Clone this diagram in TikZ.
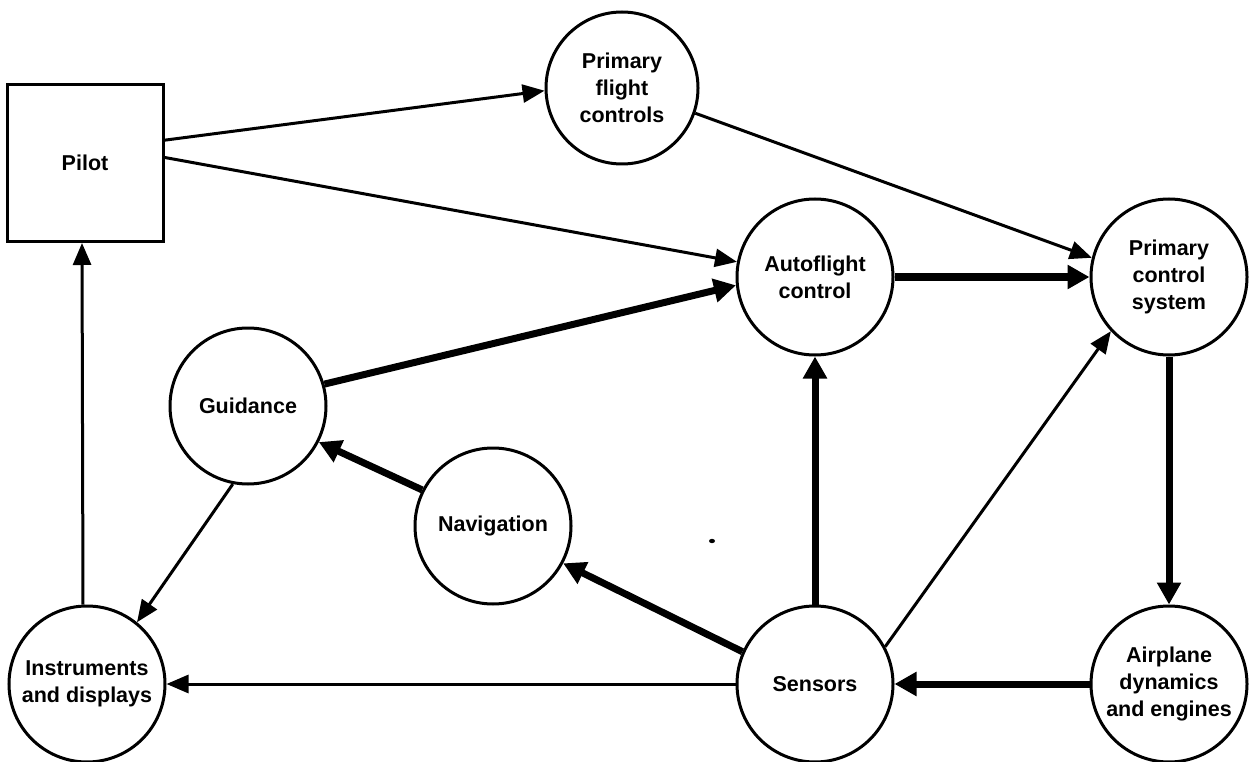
\documentclass[tikz,border=0pt]{standalone}
\usepackage{fontspec}
\setmainfont{Liberation Sans}
\usetikzlibrary{arrows.meta}
\begin{document}
\begin{tikzpicture}[x=1pt,y=-1pt,
  label text/.style={font=\fontsize{21.5}{27}\selectfont\bfseries,align=center},
  block/.style={circle,draw,line width=3pt,minimum size=156pt,inner sep=0pt,label text},
  smallblock/.style={block,minimum size=152pt},
  pilotbox/.style={rectangle,draw,line width=3pt,minimum width=156pt,minimum height=157pt,inner sep=0pt,label text},
  thinflow/.style={line width=3pt,-{Triangle[length=22pt,width=18pt]}},
  thickflow/.style={line width=7pt,-{Triangle[length=22pt,width=23pt]}},
]
\useasboundingbox (0,0) rectangle (1256,762);

% blocks
\node[pilotbox]   (pilot) at (85,163)   {Pilot};
\node[smallblock] (pfc)   at (622,88)   {Primary\\flight\\controls};
\node[block]      (auto)  at (815,277)  {Autoflight\\control};
\node[block]      (pcs)   at (1169,277) {Primary\\control\\system};
\node[block]      (guid)  at (248,406)  {Guidance};
\node[block]      (nav)   at (493,526)  {Navigation};
\node[block]      (instr) at (87,684)   {Instruments\\and displays};
\node[block]      (sens)  at (815,684)  {Sensors};
\node[block]      (air)   at (1169,684) {Airplane\\dynamics\\and engines};

% pilot inputs
\draw[thinflow] (pilot.16) -- (pfc.182);
\draw[thinflow] (pilot.4) -- (auto.169);
\draw[thinflow] (pfc.-19) -- (pcs.166);

% control loop
\draw[thickflow] (auto) -- (pcs);
\draw[thickflow] (pcs) -- (air);
\draw[thickflow] (air) -- (sens);
\draw[thickflow] (sens) -- (auto);
\draw[thinflow]  (sens.28) -- (pcs.223);

% navigation and guidance
\draw[thickflow] (sens.156) -- (nav.-28);
\draw[thickflow] (nav.153) -- (guid.-27);
\draw[thickflow] (guid.16) -- (auto.186);

% displays
\draw[thinflow] (guid.259) -- (instr.51);
\draw[thinflow] (sens) -- (instr);
\draw[thinflow] ([xshift=-4pt]instr.north) -- ([xshift=-3pt]pilot.south);

% stray mark
\fill (712,541) ellipse (3pt and 2.2pt);
\end{tikzpicture}
\end{document}
